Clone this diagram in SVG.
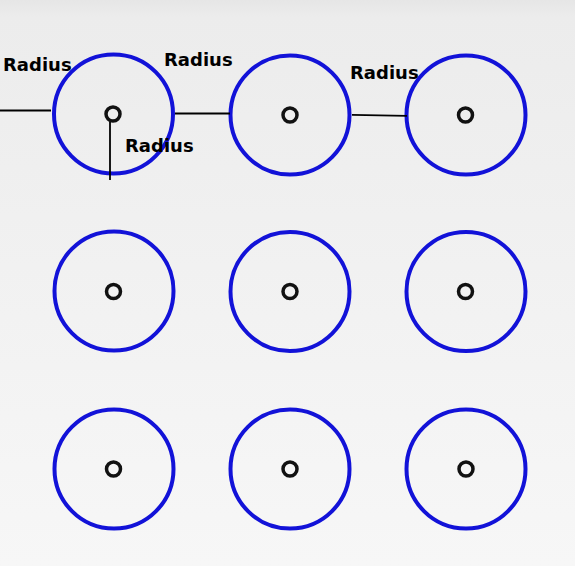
<svg xmlns="http://www.w3.org/2000/svg" width="575" height="566" viewBox="0 0 575 566">
<defs>
<linearGradient id="bg" x1="0" y1="0" x2="0" y2="1">
<stop offset="0" stop-color="#e6e6e6"/>
<stop offset="0.03" stop-color="#ececec"/>
<stop offset="1" stop-color="#f7f7f7"/>
</linearGradient>
<style>
.ring{fill:none;stroke:#1212d8;stroke-width:4}
.dot{fill:none;stroke:#111;stroke-width:3.5}
.ln{stroke:#000;stroke-width:1.8;fill:none}
.lbl{font-family:"DejaVu Sans",Verdana,sans-serif;font-weight:bold;font-size:18px;fill:#000}
</style>
</defs>
<rect width="575" height="566" fill="url(#bg)"/>
<g id="c11"><circle class="ring" cx="113.5" cy="114" r="59.5"/><circle class="dot" cx="113" cy="114" r="7"/></g>
<g id="c12"><circle class="ring" cx="290" cy="115" r="59.5"/><circle class="dot" cx="290" cy="115" r="7"/></g>
<g id="c13"><circle class="ring" cx="466" cy="115" r="59.5"/><circle class="dot" cx="465.5" cy="115" r="7"/></g>
<g id="c21"><circle class="ring" cx="114" cy="291" r="59.5"/><circle class="dot" cx="113.5" cy="291.5" r="7"/></g>
<g id="c22"><circle class="ring" cx="290" cy="291.5" r="59.5"/><circle class="dot" cx="290" cy="291.5" r="7"/></g>
<g id="c23"><circle class="ring" cx="466" cy="291.5" r="59.5"/><circle class="dot" cx="465.5" cy="291.5" r="7"/></g>
<g id="c31"><circle class="ring" cx="114" cy="469" r="59.5"/><circle class="dot" cx="113.5" cy="469" r="7"/></g>
<g id="c32"><circle class="ring" cx="290" cy="469" r="59.5"/><circle class="dot" cx="290" cy="469" r="7"/></g>
<g id="c33"><circle class="ring" cx="466" cy="469" r="59.5"/><circle class="dot" cx="466" cy="469" r="7"/></g>
<g id="connectors">
<line class="ln" x1="0" y1="110.5" x2="51" y2="110.5"/>
<line class="ln" x1="175" y1="113.5" x2="230" y2="113.5"/>
<line class="ln" x1="352" y1="114.8" x2="407" y2="115.8"/>
<line class="ln" x1="110" y1="122" x2="110" y2="180"/>
</g>
<g id="labels">
<text class="lbl" x="3" y="71">Radius</text>
<text class="lbl" x="164" y="66">Radius</text>
<text class="lbl" x="350" y="79">Radius</text>
<text class="lbl" x="125" y="152">Radius</text>
</g>
</svg>
